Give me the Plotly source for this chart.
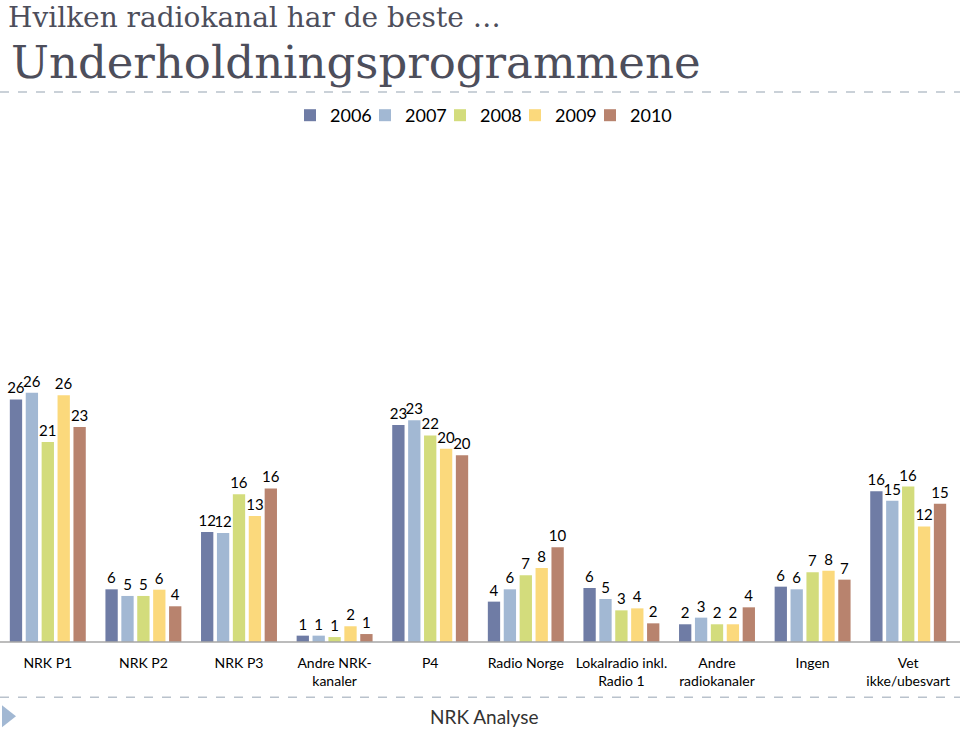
import plotly.graph_objects as go

categories = ["NRK P1", "NRK P2", "NRK P3", "Andre NRK-<br>kanaler", "P4", "Radio Norge",
              "Lokalradio inkl.<br>Radio 1", "Andre<br>radiokanaler", "Ingen", "Vet<br>ikke/ubesvart"]
years = ["2006", "2007", "2008", "2009", "2010"]
v2006 = [25.6, 5.56, 11.6, 0.67, 22.9, 4.26, 5.70, 1.87, 5.84, 15.9]
v2007 = [26.3, 4.86, 11.5, 0.67, 23.4, 5.56, 4.54, 2.57, 5.56, 14.9]
v2008 = [21.1, 4.86, 15.6, 0.52, 21.8, 7.04, 3.34, 1.87, 7.36, 16.4]
v2009 = [26.05, 5.52, 13.3, 1.66, 20.4, 7.81, 3.55, 1.87, 7.52, 12.2]
v2010 = [22.7, 3.77, 16.2, 0.84, 19.7, 10.0, 1.97, 3.66, 6.58, 14.6]
series = [v2006, v2007, v2008, v2009, v2010]
colors = ["#6f7ca5", "#a2b8d3", "#d3dc7c", "#fbd97c", "#b8836e"]

fig = go.Figure()
for name, vals, col in zip(years, series, colors):
    fig.add_trace(go.Bar(
        x=categories, y=vals, name=name, marker=dict(color=col, line=dict(width=0)),
        texttemplate="%{y:.0f}", textposition="outside", cliponaxis=False,
        textfont=dict(family="Lato", size=15, color="#000000"),
    ))
# invisible spacer legend entry so the last legend label is not clipped
fig.add_trace(go.Scatter(x=[None], y=[None], mode="markers", name=" ", showlegend=True,
                         marker=dict(color="rgba(0,0,0,0)"), hoverinfo="skip"))

W, H = 960, 729
plot_top = 150
baseline = 641.7
scale = 9.47
ymax = (baseline - plot_top) / scale
h = baseline - plot_top

fig.update_layout(
    width=W, height=H,
    margin=dict(l=0, r=4, t=plot_top, b=H - baseline),
    paper_bgcolor="white", plot_bgcolor="white",
    barmode="group", bargap=0.168, bargroupgap=0.226,
    showlegend=True,
    legend=dict(orientation="h", x=290 / 956, xanchor="left", yref="container",
                y=1 - 97 / H, yanchor="top",
                font=dict(family="Lato", size=18, color="#000000"),
                itemwidth=30, entrywidth=30, traceorder="normal"),
    xaxis=dict(showline=False, ticks="", ticklabelstandoff=11,
               tickfont=dict(family="Lato", size=14, color="#000000"), showgrid=False),
    yaxis=dict(range=[0, ymax], visible=False, showgrid=False, zeroline=False),
    font=dict(family="Lato"),
)
fig.update_traces(constraintext="none", selector=dict(type="bar"))

fig.add_annotation(text="Hvilken radiokanal har de beste …", xref="paper", yref="paper",
                   x=0, xanchor="left", y=1, yanchor="middle", showarrow=False,
                   font=dict(family="DejaVu Serif", size=28, color="#4d4e5b"),
                   xshift=6, yshift=plot_top - 17)
fig.add_annotation(text="Underholdningsprogrammene", xref="paper", yref="paper",
                   x=0, xanchor="left", y=1, yanchor="middle", showarrow=False,
                   font=dict(family="DejaVu Serif", size=45, color="#4d4e5b"),
                   xshift=9, yshift=plot_top - 62)
fig.add_annotation(text="NRK Analyse", xref="paper", yref="paper",
                   x=0.5, xanchor="center", y=0, yanchor="middle", showarrow=False,
                   font=dict(family="Lato", size=19, color="#333333"),
                   xshift=6, yshift=-(716 - baseline))

shapes = [
    dict(type="line", xref="paper", yref="paper", x0=0, x1=1.01, y0=0, y1=0,
         line=dict(color="#a6a6a6", width=1.5)),
    dict(type="line", xref="paper", yref="paper", x0=0, x1=1.01,
         y0=(baseline - 92) / h, y1=(baseline - 92) / h,
         line=dict(color="#b9c2cc", width=1.5, dash="dash")),
    dict(type="line", xref="paper", yref="paper", x0=0, x1=1.01,
         y0=-(697 - baseline) / h, y1=-(697 - baseline) / h,
         line=dict(color="#b9c2cc", width=1.5, dash="dash")),
]
tri = "M {},{} L {},{} L {},{} Z".format(
    2 / 956, -(705 - baseline) / h, 16 / 956, -(716 - baseline) / h, 2 / 956, -(727 - baseline) / h)
shapes.append(dict(type="path", xref="paper", yref="paper", path=tri,
                   fillcolor="#a2b8d3", line=dict(width=0)))
fig.update_layout(shapes=shapes)

fig.write_html("out.html", config={"displayModeBar": False},
               post_script="document.body.style.margin='0';")
